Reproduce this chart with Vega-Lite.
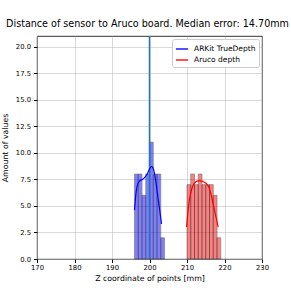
{
  "$schema": "https://vega.github.io/schema/vega-lite/v6.json",
  "autosize": "none",
  "width": 225,
  "height": 223,
  "padding": {"left": 37, "top": 36, "right": 29, "bottom": 32},
  "background": "white",
  "title": {"text": "Distance of sensor to Aruco board. Median error: 14.70mm", "font": "DejaVu Sans", "fontSize": 9.6, "fontWeight": "normal", "color": "black", "offset": 7, "anchor": "middle", "dx": -2},
  "config": {
    "view": {"stroke": "black", "strokeWidth": 0.8},
    "axis": {"labelFont": "DejaVu Sans", "titleFont": "DejaVu Sans", "labelFontSize": 6.8, "titleFontSize": 7.8, "titleFontWeight": "normal", "labelColor": "black", "titleColor": "black", "tickColor": "black", "domainColor": "black", "tickSize": 3.5, "gridColor": "#b0b0b0", "gridOpacity": 0.6, "gridWidth": 0.8, "domain": false, "labelOverlap": false, "labelFlush": false},
    "legend": {"labelFont": "DejaVu Sans"}
  },
  "datasets": {
    "bars": [
      {"series": "ARKit TrueDepth", "z": 196, "z2": 197, "v": 8},
      {"series": "ARKit TrueDepth", "z": 197, "z2": 198, "v": 8},
      {"series": "ARKit TrueDepth", "z": 198, "z2": 199, "v": 6},
      {"series": "ARKit TrueDepth", "z": 199, "z2": 200, "v": 8},
      {"series": "ARKit TrueDepth", "z": 200, "z2": 201, "v": 11},
      {"series": "ARKit TrueDepth", "z": 201, "z2": 202, "v": 8},
      {"series": "ARKit TrueDepth", "z": 202, "z2": 203, "v": 8},
      {"series": "ARKit TrueDepth", "z": 203, "z2": 204, "v": 2},
      {"series": "Aruco depth", "z": 210, "z2": 211, "v": 7},
      {"series": "Aruco depth", "z": 211, "z2": 212, "v": 8},
      {"series": "Aruco depth", "z": 212, "z2": 213, "v": 7},
      {"series": "Aruco depth", "z": 213, "z2": 214, "v": 8},
      {"series": "Aruco depth", "z": 214, "z2": 215, "v": 7},
      {"series": "Aruco depth", "z": 215, "z2": 216, "v": 7},
      {"series": "Aruco depth", "z": 216, "z2": 217, "v": 7},
      {"series": "Aruco depth", "z": 217, "z2": 218, "v": 6},
      {"series": "Aruco depth", "z": 218, "z2": 219, "v": 2}
    ],
    "kde": [
      {"series": "ARKit TrueDepth", "z": 196.0, "v": 4.6},
      {"series": "ARKit TrueDepth", "z": 196.4, "v": 6.2},
      {"series": "ARKit TrueDepth", "z": 196.9, "v": 7.1},
      {"series": "ARKit TrueDepth", "z": 197.5, "v": 7.4},
      {"series": "ARKit TrueDepth", "z": 198.2, "v": 7.5},
      {"series": "ARKit TrueDepth", "z": 198.8, "v": 7.7},
      {"series": "ARKit TrueDepth", "z": 199.4, "v": 8.0},
      {"series": "ARKit TrueDepth", "z": 199.9, "v": 8.4},
      {"series": "ARKit TrueDepth", "z": 200.5, "v": 8.7},
      {"series": "ARKit TrueDepth", "z": 200.9, "v": 8.6},
      {"series": "ARKit TrueDepth", "z": 201.3, "v": 8.1},
      {"series": "ARKit TrueDepth", "z": 201.8, "v": 7.0},
      {"series": "ARKit TrueDepth", "z": 202.3, "v": 5.7},
      {"series": "ARKit TrueDepth", "z": 202.8, "v": 4.4},
      {"series": "ARKit TrueDepth", "z": 203.2, "v": 3.3},
      {"series": "Aruco depth", "z": 209.9, "v": 3.0},
      {"series": "Aruco depth", "z": 210.3, "v": 4.6},
      {"series": "Aruco depth", "z": 210.7, "v": 5.7},
      {"series": "Aruco depth", "z": 211.2, "v": 6.5},
      {"series": "Aruco depth", "z": 211.7, "v": 7.0},
      {"series": "Aruco depth", "z": 212.3, "v": 7.25},
      {"series": "Aruco depth", "z": 212.9, "v": 7.35},
      {"series": "Aruco depth", "z": 213.6, "v": 7.35},
      {"series": "Aruco depth", "z": 214.2, "v": 7.3},
      {"series": "Aruco depth", "z": 214.8, "v": 7.2},
      {"series": "Aruco depth", "z": 215.4, "v": 7.0},
      {"series": "Aruco depth", "z": 215.9, "v": 6.7},
      {"series": "Aruco depth", "z": 216.4, "v": 6.1},
      {"series": "Aruco depth", "z": 216.9, "v": 5.3},
      {"series": "Aruco depth", "z": 217.4, "v": 4.5},
      {"series": "Aruco depth", "z": 217.9, "v": 3.7},
      {"series": "Aruco depth", "z": 218.3, "v": 3.0}
    ],
    "median": [{"z": 200, "v": 0, "v2": 21}]
  },
  "encoding": {
    "x": {"field": "z", "type": "quantitative", "scale": {"domain": [170, 230], "nice": false}, "axis": {"title": "Z coordinate of points [mm]", "values": [170, 180, 190, 200, 210, 220, 230], "labelOverlap": false, "labelPadding": 2, "titlePadding": 3}},
    "y": {"field": "v", "type": "quantitative", "scale": {"domain": [0, 21], "nice": false, "zero": true}, "axis": {"title": "Amount of values", "values": [0, 2.5, 5, 7.5, 10, 12.5, 15, 17.5, 20], "format": ".1f", "labelOverlap": false, "labelPadding": 3, "titlePadding": 6}}
  },
  "layer": [
    {
      "data": {"name": "bars"},
      "mark": {"type": "rect", "opacity": 0.5, "stroke": "black", "strokeWidth": 0.7, "strokeOpacity": 1},
      "encoding": {
        "x2": {"field": "z2"},
        "y2": {"datum": 0},
        "color": {"field": "series", "type": "nominal", "scale": {"domain": ["ARKit TrueDepth", "Aruco depth"], "range": ["#0000ff", "#ff0000"]}, "legend": {"title": null, "orient": "top-right", "offset": 3, "symbolType": "stroke", "symbolStrokeWidth": 1.5, "symbolSize": 150, "symbolOpacity": 0.9, "labelFontSize": 7.5, "labelColor": "black", "strokeColor": "#cccccc", "fillColor": "white", "padding": 3, "cornerRadius": 2, "rowPadding": 0, "labelOffset": 5}}
      }
    },
    {
      "data": {"name": "median"},
      "mark": {"type": "rule", "color": "#1f77b4", "strokeWidth": 1.5},
      "encoding": {"y2": {"field": "v2"}}
    },
    {
      "data": {"name": "kde"},
      "mark": {"type": "line", "strokeWidth": 1.2, "interpolate": "monotone"},
      "encoding": {
        "color": {"field": "series", "type": "nominal"}
      }
    }
  ]
}
